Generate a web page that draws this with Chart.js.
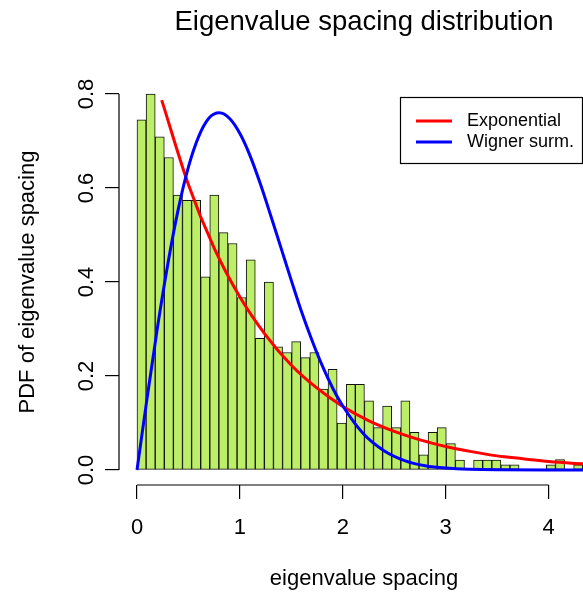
<!DOCTYPE html>
<html>
<head>
<meta charset="utf-8">
<script src="https://cdn.jsdelivr.net/npm/chart.js@4.4.1/dist/chart.umd.min.js"></script>
<style>
  html, body { margin: 0; padding: 0; background: #fff; }
  #plot { display: block; }
</style>
</head>
<body>
<canvas id="plot" width="583" height="594"></canvas>
<script>
// histogram of spacings: equal bins starting at 0, density per bin
const binWidth = 0.0884;
const density = [
  0.745, 0.800, 0.709, 0.665, 0.585, 0.574, 0.574, 0.411, 0.585, 0.505,
  0.482, 0.367, 0.447, 0.280, 0.400, 0.262, 0.250, 0.273, 0.239, 0.250,
  0.172, 0.214, 0.100, 0.182, 0.182, 0.147, 0.090, 0.136, 0.090, 0.147,
  0.080, 0.032, 0.080, 0.090, 0.056, 0.021, 0.000, 0.021, 0.021, 0.021,
  0.011, 0.011, 0.000, 0.000, 0.000, 0.011, 0.022, 0.000, 0.011
];

// red curve (exponential)
const expX = [0.24, 0.5, 0.75, 1, 1.25, 1.5, 1.75, 2, 2.25, 2.5, 2.75, 3, 3.25, 3.5, 3.75, 4, 4.25, 4.5];
const expY = [0.787, 0.607, 0.472, 0.368, 0.287, 0.223, 0.174, 0.135, 0.105, 0.082, 0.064, 0.050, 0.039, 0.030, 0.024, 0.018, 0.014, 0.011];

// blue curve (Wigner surmise)
const wignerX = [0, 0.1, 0.2, 0.3, 0.4, 0.5, 0.6, 0.7, 0.8, 0.9, 1.0, 1.1, 1.2, 1.3, 1.4, 1.5, 1.6, 1.7, 1.8, 1.9, 2.0, 2.2, 2.4, 2.6, 2.8, 3.0, 3.5, 4.0, 4.5];
const wignerY = [0, 0.156, 0.305, 0.439, 0.554, 0.645, 0.710, 0.749, 0.760, 0.748, 0.716, 0.668, 0.608, 0.541, 0.472, 0.403, 0.336, 0.276, 0.222, 0.175, 0.136, 0.077, 0.041, 0.020, 0.009, 0.004, 0.0003, 0, 0];

const xTicks = [0, 1, 2, 3, 4];
const yTicks = [0, 0.2, 0.4, 0.6, 0.8];

const mainTitle = 'Eigenvalue spacing distribution';
const xTitle = 'eigenvalue spacing';
const yTitle = 'PDF of eigenvalue spacing';

const FONT = "'Liberation Sans', Arial, sans-serif";

function toPoints(xs, ys) {
    return xs.map((x, i) => ({ x: x, y: ys[i] }));
}

const histData = density.map((d, i) => ({ x: (i + 0.5) * binWidth, y: d }));

// R style axes: line only from first to last tick, y labels turned,
// titles centred on the (wider, cropped) R plot region
const rAxes = {
    id: 'rAxes',
    afterDatasetsDraw(chart) {
        const ctx = chart.ctx;
        const xs = chart.scales.x;
        const ys = chart.scales.y;
        const area = chart.chartArea;
        ctx.save();
        ctx.strokeStyle = '#000';
        ctx.lineWidth = 1.2;
        ctx.beginPath();
        ctx.moveTo(xs.getPixelForValue(xTicks[0]), area.bottom);
        ctx.lineTo(xs.getPixelForValue(xTicks[xTicks.length - 1]), area.bottom);
        ctx.moveTo(area.left, ys.getPixelForValue(yTicks[0]));
        ctx.lineTo(area.left, ys.getPixelForValue(yTicks[yTicks.length - 1]));
        ctx.stroke();

        ctx.fillStyle = '#000';
        ctx.font = '22px ' + FONT;
        ctx.textAlign = 'center';
        ctx.textBaseline = 'middle';
        yTicks.forEach(v => {
            ctx.save();
            ctx.translate(area.left - 32, ys.getPixelForValue(v));
            ctx.rotate(-Math.PI / 2);
            ctx.fillText(v.toFixed(1), 0, 0);
            ctx.restore();
        });

        const midX = 364;
        ctx.fillText(xTitle, midX, 579);
        ctx.font = '27.5px ' + FONT;
        ctx.fillText(mainTitle, midX, 22);
        ctx.restore();
    }
};

// legend with a box, like legend() in R
const boxLegend = {
    id: 'boxLegend',
    afterDraw(chart) {
        const ctx = chart.ctx;
        const sets = chart.data.datasets.filter(d => d.type === 'line');
        const left = 400, top = 97, w = 182, h = 66;
        ctx.save();
        ctx.strokeStyle = '#000';
        ctx.lineWidth = 1.2;
        ctx.strokeRect(left + 0.5, top + 0.5, w, h);
        ctx.font = '18px ' + FONT;
        ctx.textAlign = 'left';
        ctx.textBaseline = 'middle';
        sets.forEach((ds, i) => {
            const y = top + 24 + i * 21;
            ctx.strokeStyle = ds.borderColor;
            ctx.lineWidth = 3;
            ctx.beginPath();
            ctx.moveTo(left + 16, y);
            ctx.lineTo(left + 52, y);
            ctx.stroke();
            ctx.fillStyle = '#000';
            ctx.fillText(ds.label, left + 67, y);
        });
        ctx.restore();
    }
};

new Chart(document.getElementById('plot'), {
    type: 'bar',
    data: {
        datasets: [
            {
                type: 'bar',
                label: 'spacings',
                data: histData,
                backgroundColor: '#bcee68',
                borderColor: '#111',
                borderWidth: 1,
                borderSkipped: false,
                barPercentage: 1,
                categoryPercentage: 1,
                order: 3
            },
            {
                type: 'line',
                label: 'Exponential',
                data: toPoints(expX, expY),
                borderColor: '#ff0000',
                borderWidth: 3,
                pointRadius: 0,
                cubicInterpolationMode: 'monotone',
                fill: false,
                order: 2
            },
            {
                type: 'line',
                label: 'Wigner surm.',
                data: toPoints(wignerX, wignerY),
                borderColor: '#0000ff',
                borderWidth: 3,
                pointRadius: 0,
                cubicInterpolationMode: 'monotone',
                fill: false,
                order: 1
            }
        ]
    },
    options: {
        responsive: false,
        animation: false,
        layout: { padding: { top: 79 } },
        plugins: {
            legend: { display: false },
            tooltip: { enabled: false },
            title: { display: false }
        },
        scales: {
            x: {
                type: 'linear',
                min: -0.175,
                max: 4.334,
                offset: false,
                afterBuildTicks: s => { s.ticks = xTicks.map(v => ({ value: v })); },
                afterFit: s => { s.height = 109; },
                border: { display: false },
                grid: { drawOnChartArea: false, drawTicks: true, tickLength: 14, color: '#000', lineWidth: 1.2, offset: false },
                ticks: { color: '#000', font: { family: FONT, size: 22 }, padding: 16, callback: v => String(v) }
            },
            y: {
                type: 'linear',
                min: -0.032,
                max: 0.832,
                afterBuildTicks: s => { s.ticks = yTicks.map(v => ({ value: v })); },
                afterFit: s => { s.width = 119; },
                border: { display: false },
                grid: { drawOnChartArea: false, drawTicks: true, tickLength: 14, color: '#000', lineWidth: 1.2 },
                ticks: { display: false },
                title: {
                    display: true,
                    text: yTitle,
                    color: '#000',
                    font: { family: FONT, size: 22 },
                    padding: { top: 15, bottom: 0 }
                }
            }
        }
    },
    plugins: [rAxes, boxLegend]
});
</script>
</body>
</html>
